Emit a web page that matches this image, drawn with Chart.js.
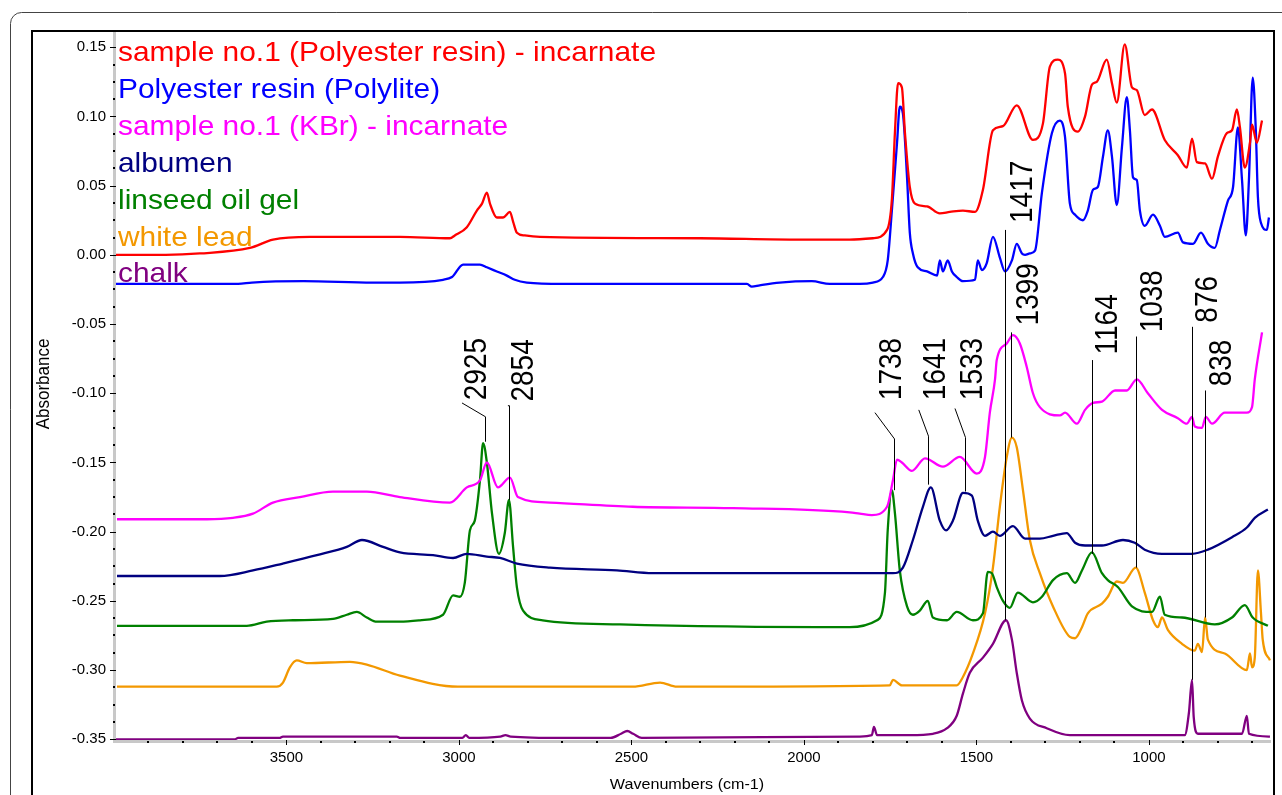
<!DOCTYPE html>
<html>
<head>
<meta charset="utf-8">
<script src="https://cdn.jsdelivr.net/npm/chart.js@4.4.1/dist/chart.umd.min.js"></script>
<style>
html,body{margin:0;padding:0;background:#fff;overflow:hidden}
#wrap{position:relative;width:1282px;height:795px}
</style>
</head>
<body>
<div id="wrap"><canvas id="c" width="1282" height="795"></canvas></div>
<script>
// ---------- DATA ----------
const seriesNames = [
  'sample no.1 (Polyester resin) - incarnate',
  'Polyester resin (Polylite)',
  'sample no.1 (KBr) - incarnate',
  'albumen',
  'linseed oil gel',
  'white lead',
  'chalk'
];
const seriesColors = ['#ff0000', '#0000ff', '#ff00ff', '#000080', '#008000', '#f39800', '#800080'];

const sampleResinWn = [3994,3850,3751,3606,3539,3432,3171,3026,3012,2977,2948,2933,2919,2910,2890,2872,2852,2843,2832,2809,2765,2301,2012,1867,1800,1759,1745,1736,1727,1716,1707,1693,1678,1643,1606,1577,1539,1504,1481,1452,1423,1383,1336,1307,1287,1264,1243,1235,1206,1185,1165,1151,1122,1107,1093,1070,1049,1035,1012,991,954,916,890,875,861,837,817,800,774,759,745,736,722,707,701,687,672];
const sampleResinAbs = [0.000,0.000,0.001,0.005,0.011,0.013,0.013,0.012,0.014,0.020,0.032,0.037,0.045,0.037,0.027,0.027,0.031,0.024,0.016,0.014,0.013,0.012,0.011,0.011,0.012,0.018,0.040,0.089,0.124,0.121,0.088,0.049,0.037,0.035,0.030,0.031,0.032,0.031,0.047,0.090,0.093,0.108,0.083,0.095,0.136,0.141,0.131,0.107,0.089,0.100,0.123,0.125,0.141,0.124,0.110,0.152,0.121,0.119,0.101,0.105,0.083,0.072,0.063,0.084,0.067,0.066,0.055,0.071,0.088,0.090,0.105,0.092,0.063,0.081,0.094,0.081,0.097];

const polyliteWn = [3994,3640,3600,3450,3250,3171,3046,3020,2988,2939,2919,2890,2861,2838,2803,2700,2300,2165,2151,2128,2070,1977,1925,1838,1800,1771,1757,1745,1730,1722,1713,1701,1693,1684,1670,1643,1614,1606,1597,1583,1571,1557,1539,1504,1496,1484,1470,1452,1432,1417,1397,1383,1368,1359,1345,1330,1310,1281,1258,1243,1229,1214,1191,1177,1162,1148,1133,1119,1107,1093,1078,1064,1055,1046,1035,1026,1012,988,968,954,916,901,872,849,829,809,794,771,756,742,730,719,710,699,690,684,675,658,652];
const polyliteAbs = [-0.021,-0.021,-0.020,-0.019,-0.020,-0.020,-0.018,-0.016,-0.007,-0.007,-0.009,-0.012,-0.015,-0.018,-0.020,-0.021,-0.021,-0.021,-0.023,-0.022,-0.020,-0.019,-0.021,-0.021,-0.020,-0.016,-0.004,0.032,0.081,0.107,0.102,0.056,0.016,0.001,-0.009,-0.012,-0.015,-0.004,-0.012,-0.004,-0.012,-0.016,-0.019,-0.018,-0.004,-0.011,-0.006,0.013,-0.002,-0.012,-0.004,0.008,0.001,0.000,0.001,0.003,0.045,0.088,0.097,0.085,0.037,0.029,0.025,0.032,0.047,0.049,0.071,0.090,0.071,0.036,0.078,0.114,0.090,0.056,0.054,0.032,0.021,0.029,0.021,0.013,0.016,0.009,0.008,0.016,0.008,0.005,0.018,0.039,0.049,0.092,0.054,0.014,0.054,0.128,0.090,0.042,0.023,0.018,0.027];

const sampleKbrWn = [3991,3730,3655,3597,3539,3461,3365,3267,3171,3026,2977,2939,2919,2887,2852,2829,2736,2496,2206,1867,1838,1803,1759,1742,1730,1716,1687,1649,1597,1548,1499,1475,1461,1446,1441,1412,1394,1374,1354,1336,1316,1258,1243,1209,1185,1162,1136,1098,1064,1035,1003,962,916,890,875,867,846,835,817,780,716,701,693,672];
const sampleKbrAbs = [-0.191,-0.191,-0.190,-0.187,-0.179,-0.175,-0.171,-0.171,-0.175,-0.179,-0.168,-0.163,-0.150,-0.168,-0.161,-0.175,-0.179,-0.182,-0.183,-0.186,-0.187,-0.188,-0.182,-0.163,-0.148,-0.150,-0.156,-0.147,-0.153,-0.146,-0.158,-0.146,-0.114,-0.090,-0.076,-0.064,-0.058,-0.064,-0.081,-0.100,-0.110,-0.116,-0.114,-0.122,-0.112,-0.107,-0.106,-0.098,-0.098,-0.090,-0.100,-0.112,-0.118,-0.122,-0.117,-0.124,-0.125,-0.117,-0.122,-0.114,-0.114,-0.110,-0.090,-0.056];

const albumenWn = [3991,3693,3597,3510,3412,3325,3281,3220,3171,3075,3017,2977,2919,2881,2832,2736,2542,2438,1867,1742,1713,1684,1655,1632,1606,1588,1568,1539,1513,1496,1475,1452,1432,1394,1359,1316,1278,1238,1214,1185,1136,1075,1041,1012,962,875,829,759,716,693,655];
const albumenAbs = [-0.232,-0.232,-0.228,-0.223,-0.217,-0.211,-0.206,-0.211,-0.215,-0.217,-0.219,-0.216,-0.218,-0.219,-0.223,-0.226,-0.228,-0.230,-0.230,-0.230,-0.226,-0.206,-0.182,-0.168,-0.192,-0.199,-0.192,-0.172,-0.174,-0.192,-0.203,-0.200,-0.203,-0.196,-0.205,-0.205,-0.203,-0.201,-0.208,-0.210,-0.210,-0.206,-0.208,-0.213,-0.216,-0.216,-0.213,-0.204,-0.197,-0.190,-0.184];

const linseedWn = [3991,3615,3557,3481,3365,3325,3296,3267,3238,3171,3113,3046,3017,2997,2983,2968,2954,2939,2930,2919,2904,2884,2867,2855,2843,2832,2814,2757,2533,1867,1788,1765,1757,1745,1736,1722,1701,1684,1664,1641,1626,1585,1557,1510,1481,1467,1455,1441,1423,1403,1380,1336,1310,1278,1238,1214,1194,1165,1136,1119,1090,1049,991,968,954,904,809,759,722,699,655];
const linseedAbs = [-0.268,-0.268,-0.265,-0.264,-0.263,-0.260,-0.258,-0.262,-0.265,-0.265,-0.264,-0.260,-0.246,-0.247,-0.237,-0.199,-0.192,-0.163,-0.136,-0.150,-0.187,-0.216,-0.201,-0.177,-0.211,-0.240,-0.257,-0.264,-0.267,-0.269,-0.264,-0.244,-0.199,-0.170,-0.187,-0.228,-0.254,-0.260,-0.257,-0.250,-0.262,-0.264,-0.258,-0.264,-0.259,-0.229,-0.230,-0.240,-0.250,-0.255,-0.244,-0.251,-0.247,-0.235,-0.230,-0.237,-0.228,-0.215,-0.230,-0.235,-0.240,-0.254,-0.258,-0.247,-0.260,-0.262,-0.267,-0.262,-0.253,-0.262,-0.268];

const whiteLeadWn = [3991,3528,3510,3490,3470,3441,3316,3267,3171,3003,2496,2417,2368,1751,1742,1716,1557,1539,1510,1475,1452,1432,1412,1397,1383,1365,1345,1316,1278,1229,1214,1194,1177,1136,1119,1093,1075,1038,1012,988,974,962,945,904,867,858,846,837,829,780,716,707,701,693,684,675,670,649];
const whiteLeadAbs = [-0.312,-0.312,-0.309,-0.298,-0.293,-0.295,-0.294,-0.296,-0.304,-0.312,-0.312,-0.309,-0.312,-0.311,-0.307,-0.311,-0.311,-0.305,-0.288,-0.259,-0.226,-0.182,-0.146,-0.132,-0.139,-0.170,-0.206,-0.230,-0.254,-0.276,-0.277,-0.269,-0.259,-0.252,-0.247,-0.236,-0.237,-0.226,-0.244,-0.264,-0.269,-0.262,-0.271,-0.281,-0.286,-0.281,-0.287,-0.262,-0.278,-0.288,-0.300,-0.288,-0.298,-0.291,-0.228,-0.259,-0.278,-0.293];

const chalkWn = [3994,3650,3640,3520,3510,3180,3170,2990,2980,2970,2880,2865,2850,2700,2560,2530,2512,2495,2470,1838,1803,1797,1788,1693,1626,1585,1557,1539,1519,1481,1452,1414,1397,1383,1368,1345,1296,1229,896,884,875,870,858,730,716,710,649];
const chalkAbs = [-0.350,-0.350,-0.349,-0.349,-0.348,-0.348,-0.349,-0.349,-0.347,-0.349,-0.348,-0.347,-0.348,-0.349,-0.349,-0.346,-0.344,-0.346,-0.349,-0.348,-0.347,-0.341,-0.347,-0.347,-0.346,-0.342,-0.333,-0.317,-0.302,-0.291,-0.281,-0.264,-0.278,-0.302,-0.322,-0.335,-0.342,-0.347,-0.347,-0.331,-0.307,-0.334,-0.346,-0.346,-0.333,-0.346,-0.348];

const xTickValues = [3500, 3000, 2500, 2000, 1500, 1000];
const yTickValues = [0.15, 0.10, 0.05, 0.00, -0.05, -0.10, -0.15, -0.20, -0.25, -0.30, -0.35];

// peak annotations
const peakLabels  = ['2925','2854','1738','1641','1533','1417','1399','1164','1038','876','838'];
const peakWn      = [2925, 2854, 1738, 1641, 1533, 1417, 1399, 1164, 1038, 876, 838];
const peakEndAbs  = [-0.135,-0.177,-0.170,-0.166,-0.171,-0.264,-0.132,-0.216,-0.226,-0.307,-0.262];
const peakKneeAbs = [-0.117,-0.109,-0.133,-0.131,-0.132,0.018,-0.056,-0.076,-0.059,-0.052,-0.098];
const peakLeadWn  = [2991, 2858, 1794, 1667, 1562, null, null, null, null, null, null];
const peakLeadAbs = [-0.107,-0.109,-0.114,-0.112,-0.111, null, null, null, null, null, null];
const peakTextWn  = [2945, 2809, 1742, 1617, 1507, 1362, 1345, 1116, 988, 826, 788];
const peakTextAbs = [-0.105,-0.106,-0.105,-0.105,-0.105,0.023,-0.051,-0.072,-0.056,-0.049,-0.095];

// ---------- CHART ----------
const wnArrays = [sampleResinWn, polyliteWn, sampleKbrWn, albumenWn, linseedWn, whiteLeadWn, chalkWn];
const absArrays = [sampleResinAbs, polyliteAbs, sampleKbrAbs, albumenAbs, linseedAbs, whiteLeadAbs, chalkAbs];

const FONT = "'Liberation Sans', Arial, Helvetica, sans-serif";
Chart.defaults.font.family = FONT;

function stretchedText(ctx, text, x, y, sx, rot, align) {
  ctx.save();
  ctx.translate(x, y);
  ctx.scale(sx, 1);
  if (rot) ctx.rotate(rot);
  ctx.textAlign = align || 'left';
  ctx.fillText(text, 0, 0);
  ctx.restore();
}

const decorPlugin = {
  id: 'decor',
  beforeDraw(chart) {
    const ctx = chart.ctx;
    ctx.save();
    ctx.fillStyle = '#fff';
    ctx.fillRect(0, 0, chart.width, chart.height);
    ctx.strokeStyle = '#444';
    ctx.lineWidth = 1;
    ctx.beginPath();
    const r = 11;
    ctx.moveTo(10.5, 820);
    ctx.lineTo(10.5, 12.5 + r);
    ctx.arcTo(10.5, 12.5, 10.5 + r, 12.5, r);
    ctx.lineTo(1300, 12.5);
    ctx.stroke();
    ctx.strokeStyle = '#000';
    ctx.lineWidth = 2;
    ctx.beginPath();
    ctx.moveTo(32, 820);
    ctx.lineTo(32, 31);
    ctx.lineTo(1274, 31);
    ctx.lineTo(1274, 820);
    ctx.stroke();
    ctx.restore();
  },
  beforeDatasetsDraw(chart) {
    const ctx = chart.ctx;
    const a = chart.chartArea;
    const xs = chart.scales.x, ys = chart.scales.y;
    ctx.save();
    ctx.fillStyle = '#c8c8c8';
    ctx.fillRect(a.left - 3, a.top, 3, a.bottom - a.top + 3);
    ctx.fillRect(a.left - 3, a.bottom, a.right - a.left + 3, 3);
    ctx.fillStyle = '#000';
    for (let k = 0; k <= 40; k++) {
      const v = -0.35 + k * 0.0125;
      if (v > ys.max) break;
      const py = Math.round(ys.getPixelForValue(v));
      if (k % 4 === 0) ctx.fillRect(a.left - 6, py, 6, 1);
      else ctx.fillRect(a.left - 3, py - 1, 2, 2);
    }
    for (let w = 700; w <= 3900; w += 100) {
      const px = Math.round(xs.getPixelForValue(w));
      if (w % 500 === 0) ctx.fillRect(px, a.bottom, 1, 5);
      else ctx.fillRect(px - 1, a.bottom + 1, 2, 2);
    }
    ctx.restore();
  },
  afterDatasetsDraw(chart) {
    const ctx = chart.ctx;
    const xs = chart.scales.x, ys = chart.scales.y;
    ctx.save();
    ctx.strokeStyle = '#000';
    ctx.lineWidth = 1;
    for (let i = 0; i < peakWn.length; i++) {
      const px = Math.round(xs.getPixelForValue(peakWn[i])) + 0.5;
      ctx.beginPath();
      if (peakLeadWn[i] !== null) {
        ctx.moveTo(xs.getPixelForValue(peakLeadWn[i]), ys.getPixelForValue(peakLeadAbs[i]));
        ctx.lineTo(px, ys.getPixelForValue(peakKneeAbs[i]));
      } else {
        ctx.moveTo(px, ys.getPixelForValue(peakKneeAbs[i]));
      }
      ctx.lineTo(px, ys.getPixelForValue(peakEndAbs[i]));
      ctx.stroke();
    }
    ctx.fillStyle = '#000';
    ctx.font = '28px ' + FONT;
    ctx.textBaseline = 'middle';
    for (let i = 0; i < peakLabels.length; i++) {
      stretchedText(ctx, peakLabels[i], xs.getPixelForValue(peakTextWn[i]), ys.getPixelForValue(peakTextAbs[i]), 1.1, -Math.PI / 2, 'left');
    }
    ctx.font = '28px ' + FONT;
    ctx.textBaseline = 'alphabetic';
    chart.data.datasets.forEach((ds, i) => {
      ctx.fillStyle = ds.borderColor;
      stretchedText(ctx, ds.label, 118, 61 + i * 36.9, 1.067, 0, 'left');
    });
    ctx.fillStyle = '#000';
    ctx.font = '17px ' + FONT;
    ctx.textBaseline = 'middle';
    stretchedText(ctx, 'Absorbance', 44, 384, 1.1, -Math.PI / 2, 'center');
    ctx.font = '15px ' + FONT;
    ctx.textBaseline = 'alphabetic';
    stretchedText(ctx, 'Wavenumbers (cm-1)', 687, 789, 1.075, 0, 'center');
    ctx.restore();
  }
};

const datasets = seriesNames.map((name, i) => ({
  label: name,
  data: wnArrays[i].map((w, j) => ({ x: w, y: absArrays[i][j] })),
  borderColor: seriesColors[i],
  backgroundColor: seriesColors[i],
  borderWidth: 2.3,
  pointRadius: 0,
  cubicInterpolationMode: 'monotone',
  borderJoinStyle: 'round',
  fill: false
}));

new Chart(document.getElementById('c').getContext('2d'), {
  type: 'line',
  data: { datasets },
  options: {
    responsive: false,
    animation: false,
    devicePixelRatio: 1,
    layout: { padding: { top: 32, right: 11, bottom: 0, left: 0 } },
    plugins: { legend: { display: false }, tooltip: { enabled: false } },
    scales: {
      x: {
        type: 'linear', reverse: true, min: 646, max: 3994,
        grid: { display: false, drawTicks: false }, border: { display: false },
        ticks: { color: '#000', font: { size: 15 }, padding: 9, maxRotation: 0, callback: v => String(v) },
        afterBuildTicks: s => { s.ticks = xTickValues.map(v => ({ value: v })); },
        afterFit: s => { s.height = 55; }
      },
      y: {
        type: 'linear', min: -0.3505, max: 0.161,
        grid: { display: false, drawTicks: false }, border: { display: false },
        ticks: { color: '#000', font: { size: 15 }, padding: 10, callback: v => v.toFixed(2) },
        afterBuildTicks: s => { s.ticks = yTickValues.map(v => ({ value: v })); },
        afterFit: s => { s.width = 116; }
      }
    }
  },
  plugins: [decorPlugin]
});
</script>
</body>
</html>
